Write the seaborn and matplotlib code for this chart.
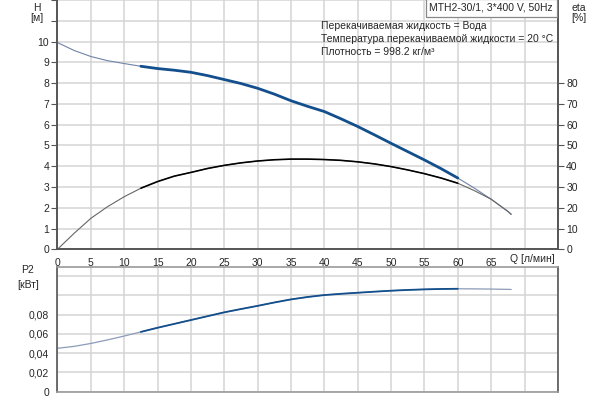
import numpy as np
import pandas as pd
import seaborn as sns
import matplotlib.pyplot as plt

# flow Q [l/min]
q = [0, 2.5, 5, 7.5, 10, 12.5, 15, 17.5, 20, 22.5, 25, 27.5, 30, 32.5, 35,
     37.5, 40, 42.5, 45, 47.5, 50, 52.5, 55, 57.5, 60, 62.5, 65, 67.5, 68]
# head H [m]
head = [9.95, 9.57, 9.28, 9.08, 8.94, 8.81, 8.70, 8.62, 8.52, 8.36, 8.17, 7.98, 7.75, 7.47, 7.15,
        6.88, 6.63, 6.28, 5.91, 5.51, 5.10, 4.70, 4.30, 3.88, 3.43, 2.94, 2.41, 1.82, 1.70]
# efficiency eta [%]
eta = [0, 7.7, 14.9, 20.5, 25.3, 29.4, 32.6, 35.2, 37.0, 38.9, 40.4, 41.6, 42.5, 43.1, 43.4,
       43.4, 43.2, 42.8, 42.1, 41.1, 39.8, 38.2, 36.4, 34.3, 31.8, 28.2, 24.1, 18.3, 16.7]
# shaft power P2 [kW]
p2 = [0.045, 0.047, 0.050, 0.0537, 0.0577, 0.062, 0.0663, 0.0703, 0.0743, 0.0783, 0.0823,
      0.0857, 0.089, 0.0925, 0.0957, 0.0982, 0.1002, 0.1015, 0.1026, 0.1037, 0.1047,
      0.1055, 0.1061, 0.1065, 0.1067, 0.1066, 0.1064, 0.1061, 0.106]

duty_lo, duty_hi = 12, 60

title_txt = "MTH2-30/1, 3*400 V, 50Hz"
info_lines = ["Перекачиваемая жидкость = Вода",
              "Температура перекачиваемой жидкости = 20 °C",
              "Плотность = 998.2 кг/м³"]

df = pd.DataFrame({"Q": q, "H": head, "eta": eta, "P2": p2})
duty = df[(df.Q >= duty_lo) & (df.Q <= duty_hi)]

sns.set_style("white")
plt.rcParams["font.family"] = ["Liberation Sans", "DejaVu Sans"]
plt.rcParams["font.size"] = 7.5

blue = "#134f8c"
grid_c = "#d4d4d4"
spine_c = "#555555"

fig = plt.figure(figsize=(6, 4), dpi=100)
ax = fig.add_axes([0.0958, 0.3768, 0.834, 0.6232])
ax2 = ax.twinx()
axp = fig.add_axes([0.0958, 0.0208, 0.834, 0.311])

# --- top: head + efficiency
sns.lineplot(data=df, x="Q", y="H", ax=ax, color="#7084a8", lw=0.8)
sns.lineplot(data=duty, x="Q", y="H", ax=ax, color=blue, lw=2.0)
sns.lineplot(data=df, x="Q", y="eta", ax=ax2, color="#666666", lw=0.8)
sns.lineplot(data=duty, x="Q", y="eta", ax=ax2, color="black", lw=1.15)

ax.set_xlim(0, 75)
ax.set_ylim(0, 12)
ax2.set_ylim(0, 120)
ax.set_xticks(range(0, 76, 5))
ax.set_xticklabels([str(v) if v <= 65 else "" for v in range(0, 76, 5)])
ax.set_yticks(range(0, 13))
ax.set_yticklabels([str(v) if v <= 10 else "" for v in range(0, 13)])
ax2.set_yticks(range(0, 81, 10))
ax.grid(True, color=grid_c, lw=1.1)
ax.set_axisbelow(True)
ax.set_xlabel("")
ax.set_ylabel("")
ax2.set_ylabel("")
ax.spines["top"].set_visible(False)
ax2.spines["top"].set_visible(False)
for a in (ax, ax2):
    for s in ("left", "bottom", "right"):
        a.spines[s].set_color(spine_c)
        a.spines[s].set_linewidth(1.2)
ax.tick_params(axis="both", length=4, width=0.8, color=spine_c, pad=2, labelsize=7.5)
ax2.tick_params(axis="y", length=4, width=0.8, color=spine_c, pad=2, labelsize=7.5)

# --- bottom: power
sns.lineplot(data=df, x="Q", y="P2", ax=axp, color="#8c9bb8", lw=0.9)
sns.lineplot(data=duty, x="Q", y="P2", ax=axp, color=blue, lw=1.3)
axp.set_xlim(0, 75)
axp.set_ylim(0, 0.129)
axp.set_xticks(range(0, 76, 5))
axp.set_xticklabels([])
pt = [0, 0.02, 0.04, 0.06, 0.08, 0.10, 0.12]
axp.set_yticks(pt)
axp.set_yticklabels(["0", "0,02", "0,04", "0,06", "0,08", "", ""])
axp.grid(True, color=grid_c, lw=1.1)
axp.set_axisbelow(True)
axp.set_xlabel("")
axp.set_ylabel("")
for s in ("top", "bottom"):
    axp.spines[s].set_color("#9a9a9a")
for s in ("left", "right"):
    axp.spines[s].set_color(spine_c)
for s in axp.spines.values():
    s.set_linewidth(1.2)
axp.tick_params(axis="y", length=4, width=0.8, color=spine_c, pad=2, labelsize=7.5)
axp.tick_params(axis="x", length=0)

# --- axis captions
fig.text(37 / 600, 1 - 8 / 400, "H", ha="center", va="center", fontsize=7.5)
fig.text(37 / 600, 1 - 18 / 400, "[м]", ha="center", va="center", fontsize=7.5)
fig.text(579 / 600, 1 - 8 / 400, "eta", ha="center", va="center", fontsize=7.5)
fig.text(579 / 600, 1 - 18 / 400, "[%]", ha="center", va="center", fontsize=7.5)
fig.text(28 / 600, 1 - 270 / 400, "P2", ha="center", va="center", fontsize=7.5)
fig.text(28 / 600, 1 - 285 / 400, "[кВт]", ha="center", va="center", fontsize=7.5)
fig.text(555 / 600, 1 - 259 / 400, "Q [л/мин]", ha="right", va="center", fontsize=7.5)

fig.text(553 / 600, 1 - 8 / 400, title_txt, ha="right", va="center", fontsize=7.5,
         bbox=dict(boxstyle="square,pad=0.35", fc="white", ec="#888888", lw=0.9))
for i, line in enumerate(info_lines):
    fig.text(321 / 600, 1 - (26 + 13 * i) / 400, line, ha="left", va="center", fontsize=7.5)

fig.savefig("out.png", dpi=100)
